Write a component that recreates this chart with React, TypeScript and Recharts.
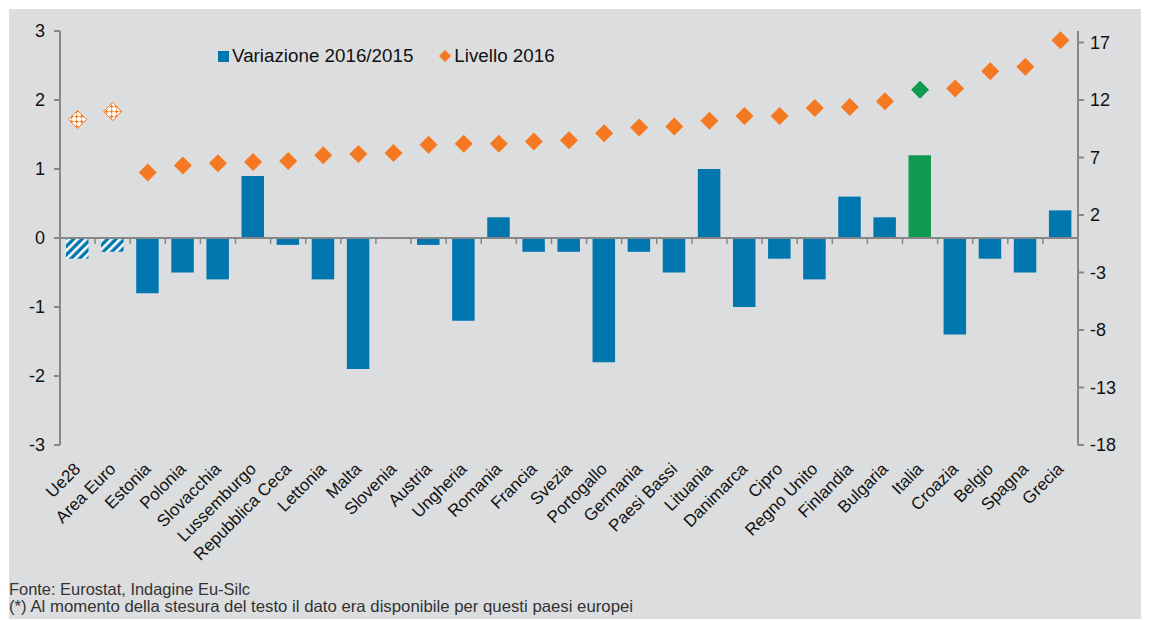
import React from "react";
import { ComposedChart, Bar, Line, XAxis, YAxis, Cell, ReferenceLine, Legend } from "recharts";

const categories = [
  "Ue28", "Area Euro", "Estonia", "Polonia", "Slovacchia", "Lussemburgo", "Repubblica Ceca",
  "Lettonia", "Malta", "Slovenia", "Austria", "Ungheria", "Romania", "Francia", "Svezia",
  "Portogallo", "Germania", "Paesi Bassi", "Lituania", "Danimarca", "Cipro", "Regno Unito",
  "Finlandia", "Bulgaria", "Italia", "Croazia", "Belgio", "Spagna", "Grecia",
];
const variazione = [
  -0.3, -0.2, -0.8, -0.5, -0.6, 0.9, -0.1, -0.6, -1.9, 0, -0.1, -1.2, 0.3, -0.2, -0.2,
  -1.8, -0.2, -0.5, 1.0, -1.0, -0.3, -0.6, 0.6, 0.3, 1.2, -1.4, -0.3, -0.5, 0.4,
];
const livello = [
  10.3, 11.0, 5.7, 6.3, 6.5, 6.6, 6.7, 7.2, 7.3, 7.4, 8.1, 8.2, 8.2, 8.4, 8.5,
  9.1, 9.6, 9.7, 10.2, 10.6, 10.6, 11.3, 11.4, 11.9, 12.9, 13.0, 14.5, 14.9, 17.2,
];
const aggregates = ["Ue28", "Area Euro"];
const highlighted = "Italia";
const leftTicks = [-3, -2, -1, 0, 1, 2, 3];
const rightTicks = [-18, -13, -8, -3, 2, 7, 12, 17];
const legendLabels = ["Variazione 2016/2015", "Livello 2016"];
const footerLines = [
  "Fonte: Eurostat, Indagine Eu-Silc",
  "(*) Al momento della stesura del testo il dato era disponibile per questi paesi europei",
];

const data = categories.map((name, i) => ({ name, variazione: variazione[i], livello: livello[i] }));

const BLUE = "#0076AE";
const ORANGE = "#F47920";
const GREEN = "#0F9A4F";
const AXIS = "#878787";
const BG = "#DCDDDF";
const FONT = '"Liberation Sans", Arial, sans-serif';

function CategoryTick(props: any) {
  const { x, y, payload } = props;
  return (
    <g transform={`translate(${x + 4},${y + 25})`}>
      <text transform="rotate(-45)" textAnchor="end" fontSize={17} fontFamily={FONT} fill="#111">
        {payload.value}
      </text>
    </g>
  );
}

function Diamond(props: any) {
  const { cx, cy, payload, index } = props;
  if (cx == null || cy == null) return <g key={index} />;
  const r = 9;
  const d = `M${cx},${cy - r}L${cx + r},${cy}L${cx},${cy + r}L${cx - r},${cy}Z`;
  if (aggregates.includes(payload.name)) {
    return <path key={index} d={d} fill="url(#dotted)" stroke={ORANGE} strokeWidth={1} />;
  }
  const fill = payload.name === highlighted ? GREEN : ORANGE;
  return <path key={index} d={d} fill={fill} />;
}

function ZeroLine(props: any) {
  const { x1, y1, x2, y2 } = props;
  const n = categories.length;
  const step = (x2 - x1) / n;
  const ticks = [];
  for (let k = 1; k < n; k++) {
    const tx = x1 + k * step;
    ticks.push(<line key={k} x1={tx} x2={tx} y1={y1} y2={y1 + 6} stroke={AXIS} strokeWidth={1.5} />);
  }
  return (
    <g>
      <line x1={x1} y1={y1} x2={x2} y2={y2} stroke={AXIS} strokeWidth={2} />
      {ticks}
    </g>
  );
}

function LegendContent() {
  return (
    <div style={{ display: "flex", alignItems: "center", fontFamily: FONT, fontSize: 18.8, color: "#111", whiteSpace: "nowrap" }}>
      <span style={{ display: "inline-block", width: 11, height: 11, background: BLUE, marginRight: 3 }} />
      <span>{legendLabels[0]}</span>
      <svg width={14} height={14} style={{ marginLeft: 25, marginRight: 2 }}>
        <path d="M7,1L13,7L7,13L1,7Z" fill={ORANGE} />
      </svg>
      <span>{legendLabels[1]}</span>
    </div>
  );
}

export default function App() {
  return (
    <div style={{ position: "relative", left: 1, top: 1, width: 1135, height: 611, background: BG, overflow: "hidden" }}>
      <svg width={0} height={0} style={{ position: "absolute" }}>
        <defs>
          <pattern id="hatch" patternUnits="userSpaceOnUse" width={6} height={6} patternTransform="rotate(45)">
            <rect x={0} y={0} width={6} height={6} fill={BLUE} />
            <rect x={0} y={0} width={2.6} height={6} fill="#ffffff" />
          </pattern>
          <pattern id="dotted" patternUnits="userSpaceOnUse" width={5} height={5}>
            <rect x={0} y={0} width={5} height={5} fill="#ffffff" />
            <rect x={2} y={0.5} width={1.2} height={4} fill={ORANGE} />
            <rect x={0.5} y={2} width={4} height={1.2} fill={ORANGE} />
          </pattern>
        </defs>
      </svg>
      <ComposedChart
        width={1135}
        height={560}
        data={data}
        margin={{ top: 22, right: 6, left: 1, bottom: 40 }}
        barSize={22.5}
      >
        <XAxis
          dataKey="name"
          interval={0}
          axisLine={false}
          tickLine={false}
          tickSize={0}
          tickMargin={0}
          height={84}
          tick={<CategoryTick />}
        />
        <YAxis
          yAxisId="left"
          domain={[-3, 3]}
          ticks={leftTicks}
          width={50}
          axisLine={{ stroke: AXIS, strokeWidth: 2 }}
          tickLine={{ stroke: AXIS, strokeWidth: 2 }}
          tickSize={6}
          tickMargin={9}
          tick={{ fontSize: 18, fill: "#111", fontFamily: FONT }}
        />
        <YAxis
          yAxisId="right"
          orientation="right"
          domain={[-18, 18]}
          ticks={rightTicks}
          width={60}
          axisLine={{ stroke: AXIS, strokeWidth: 2 }}
          tickLine={{ stroke: AXIS, strokeWidth: 2 }}
          tickSize={6}
          tickMargin={6}
          tick={{ fontSize: 18, fill: "#111", fontFamily: FONT }}
        />
        <Legend
          layout="horizontal"
          verticalAlign="middle"
          align="center"
          content={<LegendContent />}
          wrapperStyle={{ top: 36, left: 209, width: 420 }}
        />
        <Bar yAxisId="left" dataKey="variazione" isAnimationActive={false}>
          {data.map((d, i) => (
            <Cell
              key={i}
              fill={aggregates.includes(d.name) ? "url(#hatch)" : d.name === highlighted ? GREEN : BLUE}
            />
          ))}
        </Bar>
        <ReferenceLine yAxisId="left" y={0} shape={(p: any) => <ZeroLine {...p} />} />
        <Line
          yAxisId="right"
          dataKey="livello"
          stroke="none"
          dot={(p: any) => <Diamond {...p} />}
          activeDot={false}
          isAnimationActive={false}
        />
      </ComposedChart>
      <svg width={700} height={40} style={{ position: "absolute", left: 0, top: 570 }}>
        <text x={0} y={16} fontFamily={FONT} fontSize={16.5} fill="#333" textLength={241} lengthAdjust="spacingAndGlyphs">
          {footerLines[0]}
        </text>
        <text x={0} y={33} fontFamily={FONT} fontSize={16.5} fill="#333" textLength={624} lengthAdjust="spacingAndGlyphs">
          {footerLines[1]}
        </text>
      </svg>
    </div>
  );
}
